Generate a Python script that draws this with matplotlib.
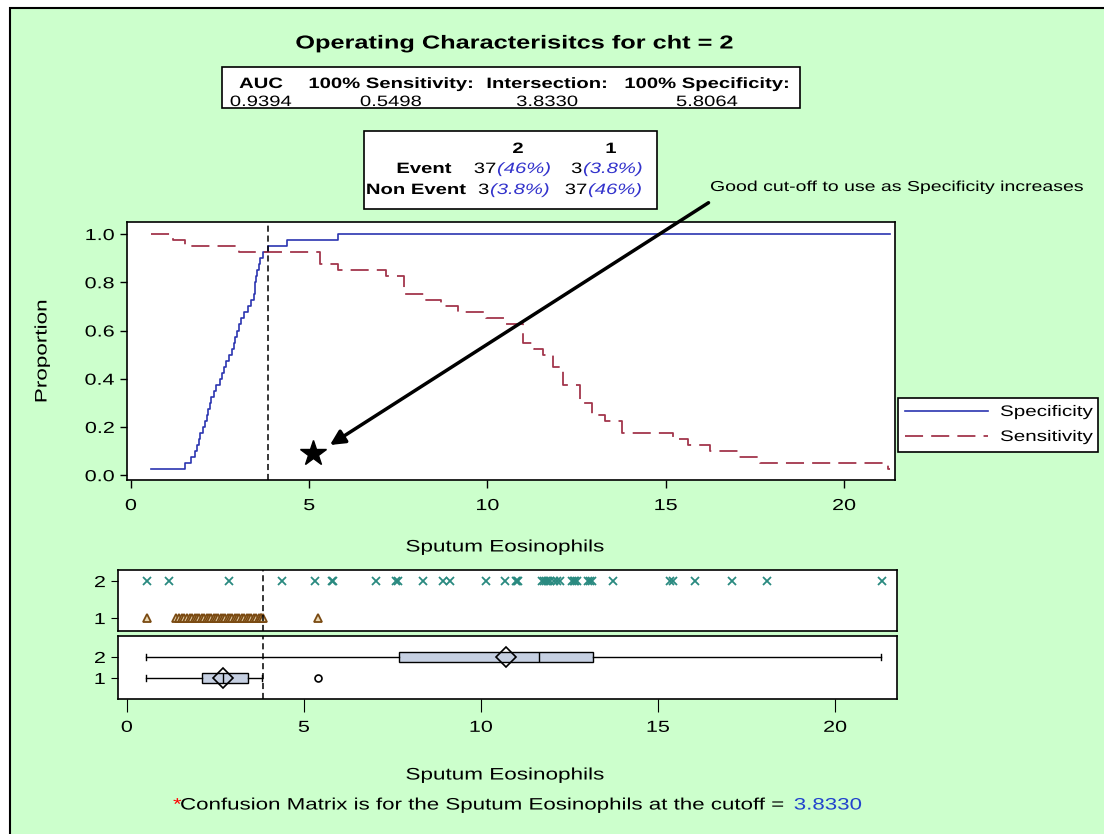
import matplotlib
matplotlib.use('Agg')
import matplotlib.pyplot as plt
from matplotlib.patches import Rectangle
from matplotlib.lines import Line2D
from matplotlib.patheffects import AbstractPathEffect
from matplotlib.transforms import Affine2D

plt.rcParams['font.family'] = ['Liberation Sans', 'DejaVu Sans']

# ---------------- data ----------------
cutoff = 3.833
auc_txt = "0.9394"
sens100_txt = "0.5498"
inter_txt = "3.8330"
spec100_txt = "5.8064"

spec_x = [0.55, 1.53, 1.68, 1.80, 1.86, 1.90, 1.94, 2.02, 2.08, 2.13, 2.17, 2.21, 2.24,
          2.32, 2.40, 2.50, 2.56, 2.62, 2.68, 2.76, 2.83, 2.88, 2.93, 2.98, 3.03, 3.08,
          3.18, 3.29, 3.38, 3.44, 3.47, 3.49, 3.51, 3.53, 3.58, 3.63, 3.70, 3.84, 4.37,
          5.81, 21.3]
spec_y = [0.025, 0.05, 0.075, 0.10, 0.125, 0.15, 0.175, 0.20, 0.225, 0.25, 0.275, 0.30,
          0.325, 0.35, 0.375, 0.40, 0.425, 0.45, 0.475, 0.50, 0.525, 0.55, 0.575, 0.60,
          0.625, 0.65, 0.675, 0.70, 0.725, 0.75, 0.775, 0.80, 0.825, 0.85, 0.875, 0.90,
          0.925, 0.95, 0.975, 1.0, 1.0]

sens_x = [0.55, 1.19, 1.53, 3.02, 5.30, 5.81, 7.16, 7.65, 8.24, 8.71, 9.18, 9.97, 10.49,
          11.00, 11.30, 11.57, 11.85, 12.13, 12.59, 12.92, 13.30, 13.76, 15.21, 15.63,
          16.24, 17.03, 17.64, 21.24, 21.3]
sens_y = [1.0, 0.975, 0.95, 0.925, 0.875, 0.85, 0.825, 0.75, 0.725, 0.70, 0.675, 0.65,
          0.625, 0.55, 0.525, 0.50, 0.45, 0.375, 0.30, 0.25, 0.225, 0.175, 0.15, 0.125,
          0.10, 0.075, 0.05, 0.025, 0.025]

star_x = [5.1]
star_y = [0.09]

group2_vals = [0.56, 1.20, 2.89, 4.37, 5.31, 5.78, 5.82, 7.05, 7.60, 7.65, 8.37, 8.94,
               9.14, 10.14, 10.68, 10.98, 11.02, 11.05, 11.72, 11.78, 11.84, 11.90, 11.96,
               12.05, 12.15, 12.22, 12.58, 12.62, 12.66, 12.70, 13.02, 13.08, 13.14, 13.74,
               15.35, 15.42, 16.05, 17.08, 18.07, 21.32]
group1_vals = [0.56, 1.40, 1.48, 1.55, 1.62, 1.70, 1.78, 1.85, 1.92, 1.98, 2.05, 2.12,
               2.18, 2.25, 2.32, 2.38, 2.45, 2.52, 2.58, 2.65, 2.72, 2.78, 2.85, 2.92,
               2.98, 3.05, 3.12, 3.18, 3.25, 3.32, 3.38, 3.45, 3.52, 3.58, 3.65, 3.72,
               3.78, 3.80, 3.833, 5.40]

box_labels = ['1', '2']
box_whislo = [0.55, 0.55]
box_q1 = [2.13, 7.68]
box_med = [2.72, 11.65]
box_q3 = [3.41, 13.17]
box_whishi = [3.83, 21.3]
box_mean = [2.72, 10.72]
box_fliers = [[5.40], []]

x_ticks = [0, 5, 10, 15, 20]
y_ticks = [0.0, 0.2, 0.4, 0.6, 0.8, 1.0]

# ---------------- helpers ----------------
SX = 1.35


class HStretch(AbstractPathEffect):
    """Widen text horizontally (mimics the loose letter spacing of the original)."""

    def __init__(self, sx=SX, anchor='center'):
        super().__init__()
        self.sx = sx
        self.anchor = anchor

    def draw_path(self, renderer, gc, tpath, affine, rgbFace=None):
        ext = tpath.get_extents()
        if self.anchor == 'left':
            a = 0.0
        elif self.anchor == 'right':
            a = ext.x1
        else:
            a = (ext.x0 + ext.x1) / 2
        pre = Affine2D().translate(-a, 0).scale(self.sx, 1).translate(a, 0)
        renderer.draw_path(gc, tpath, pre + affine, rgbFace)


def stretch(t, anchor='center'):
    t.set_path_effects([HStretch(SX, anchor)])
    return t


W, H = 1104, 834
fig = plt.figure(figsize=(W / 100, H / 100), dpi=100, facecolor='white')


def fx(x):
    return x / W


def fy(y):
    return 1 - y / H


def axrect(x0, y0, x1, y1):
    return [fx(x0), fy(y1), (x1 - x0) / W, (y1 - y0) / H]


def ftext(x, y, s, ha='center', **kw):
    t = fig.text(fx(x), fy(y), s, ha=ha, va='center', **kw)
    return stretch(t, ha)


bg = '#CCFFCC'
fig.patches.append(Rectangle((fx(10), fy(850)), fx(1120) - fx(10), fy(8) - fy(850),
                             transform=fig.transFigure, facecolor=bg, edgecolor='black',
                             lw=1.5, zorder=-5))

blue = '#2B35B0'
red = '#A2364C'
teal = '#2A8A80'
brown = '#7A4A12'
fs_tick = 11.5
fs_lab = 12

# ---- main axes ----
ax = fig.add_axes(axrect(127, 222, 895, 480))
ax.set_facecolor('white')
ax.plot(spec_x, spec_y, drawstyle='steps-post', color=blue, lw=1.2, label='Specificity')
ax.plot(sens_x, sens_y, drawstyle='steps-post', color=red, lw=1.3, dashes=(10, 4.5),
        label='Sensitivity')
ax.axvline(cutoff, color='black', lw=1.1, dashes=(4, 2.5))
ax.plot(star_x, star_y, marker='*', ms=19, color='black', ls='none')
ax.set_xlim(-0.11, 21.43)
ax.set_ylim(-0.02, 1.05)
ax.set_xticks(x_ticks)
ax.set_yticks(y_ticks)
ax.set_yticklabels([f'{v:.1f}' for v in y_ticks])
ax.tick_params(direction='out', length=6, width=1, labelsize=fs_tick, pad=7, colors='black')
ax.tick_params(axis='y', length=5, pad=4)
for s in ax.spines.values():
    s.set_linewidth(1.2)
ax.set_ylabel('Proportion', fontsize=fs_lab)
ax.yaxis.set_label_coords((42 - 127) / 768, 0.5)
ax.yaxis.label.set_va('center')
stretch(ax.yaxis.label)
ax.set_xlabel('Sputum Eosinophils', fontsize=fs_lab)
ax.xaxis.set_label_coords((505 - 127) / 768, (480 - 547) / 258)
ax.xaxis.label.set_va('center')
stretch(ax.xaxis.label)
ax.annotate('', xy=(5.58, 0.125), xytext=(16.2, 1.13),
            arrowprops=dict(arrowstyle='-|>', lw=2.5, color='black', mutation_scale=22,
                            shrinkA=0, shrinkB=0),
            annotation_clip=False)

# legend (outside, right)
fig.patches.append(Rectangle((fx(898), fy(452)), fx(1098) - fx(898), fy(398) - fy(452),
                             transform=fig.transFigure, facecolor='white',
                             edgecolor='black', lw=1.2, zorder=1))
fig.lines.append(Line2D([fx(905), fx(988)], [fy(411), fy(411)], transform=fig.transFigure,
                        color=blue, lw=1.2, zorder=2))
fig.lines.append(Line2D([fx(905), fx(988)], [fy(436), fy(436)], transform=fig.transFigure,
                        color=red, lw=1.3, dashes=(10, 4.5), zorder=2))
ftext(1000, 412, 'Specificity', ha='left', fontsize=11, zorder=3)
ftext(1000, 437, 'Sensitivity', ha='left', fontsize=11, zorder=3)

ftext(710, 187, 'Good cut-off to use as Specificity increases', ha='left', fontsize=10.4)

# ---- strip axes ----
ax2 = fig.add_axes(axrect(118, 570, 897, 631))
ax2.set_facecolor('white')
ax2.plot(group2_vals, [2] * len(group2_vals), ls='none', marker='x', ms=6, mew=1.3,
         color=teal)
ax2.plot(group1_vals, [1] * len(group1_vals), ls='none', marker='^', ms=5.5, mew=1.3,
         markerfacecolor='#EBD9B4', markeredgecolor=brown)
ax2.axvline(cutoff, color='black', lw=1.1, dashes=(4, 2.5))
ax2.set_xlim(-0.25, 21.75)
ax2.set_ylim(0.65, 2.30)
ax2.set_yticks([1, 2])
ax2.set_yticklabels(box_labels)
ax2.set_xticks([])
ax2.tick_params(direction='out', length=5, labelsize=fs_tick, pad=4)
for s in ax2.spines.values():
    s.set_linewidth(1.2)

# ---- box axes ----
ax3 = fig.add_axes(axrect(118, 636, 897, 699))
ax3.set_facecolor('white')
stats = []
for i in range(len(box_labels)):
    stats.append(dict(label=box_labels[i], whislo=box_whislo[i], q1=box_q1[i],
                      med=box_med[i], q3=box_q3[i], whishi=box_whishi[i],
                      mean=box_mean[i], fliers=box_fliers[i]))
ax3.bxp(stats, positions=[1, 2], vert=False, widths=0.45, showmeans=True,
        patch_artist=True, capwidths=0.3,
        boxprops=dict(facecolor='#C6D0E2', edgecolor='black', lw=1),
        medianprops=dict(color='black', lw=1),
        whiskerprops=dict(color='black', lw=1),
        capprops=dict(color='black', lw=1),
        meanprops=dict(marker='D', markerfacecolor='none', markeredgecolor='black',
                       ms=10, mew=1.2),
        flierprops=dict(marker='o', markerfacecolor='none', markeredgecolor='black',
                        ms=5, mew=1.2))
ax3.axvline(cutoff, color='black', lw=1.1, dashes=(4, 2.5))
ax3.set_xlim(-0.25, 21.75)
ax3.set_ylim(0, 3)
ax3.set_yticks([1, 2])
ax3.set_yticklabels(box_labels)
ax3.set_xticks(x_ticks)
ax3.set_xticklabels([str(v) for v in x_ticks])
ax3.tick_params(direction='out', length=5, labelsize=fs_tick, pad=4)
ax3.tick_params(axis='x', length=9, pad=6)
for s in ax3.spines.values():
    s.set_linewidth(1.2)
ax3.set_xlabel('Sputum Eosinophils', fontsize=fs_lab)
ax3.xaxis.set_label_coords((505 - 118) / 779, (699 - 775) / 63)
ax3.xaxis.label.set_va('center')
stretch(ax3.xaxis.label)

# ---- title ----
ftext(514, 44, 'Operating Characterisitcs for cht = 2', fontsize=13.5, fontweight='bold')

# ---- stats table ----
fig.patches.append(Rectangle((fx(222), fy(108)), fx(800) - fx(222), fy(67) - fy(108),
                             transform=fig.transFigure, facecolor='white',
                             edgecolor='black', lw=1.2, zorder=1))
hdrs = ['AUC', '100% Sensitivity:', 'Intersection:', '100% Specificity:']
vals = [auc_txt, sens100_txt, inter_txt, spec100_txt]
hx = [261, 391, 547, 707]
for h, v, x in zip(hdrs, vals, hx):
    ftext(x, 84, h, fontsize=10.8, fontweight='bold', zorder=2)
    ftext(x, 102, v, fontsize=10.8, zorder=2)

# ---- confusion matrix ----
fig.patches.append(Rectangle((fx(364), fy(209)), fx(657) - fx(364), fy(131) - fy(209),
                             transform=fig.transFigure, facecolor='white',
                             edgecolor='black', lw=1.2, zorder=1))
col_hdr = ['2', '1']
col_x = [518, 611]
for c, x in zip(col_hdr, col_x):
    ftext(x, 149, c, fontsize=10.8, fontweight='bold', zorder=2)
row_lbl = ['Event', 'Non Event']
row_lbl_x = [424, 416]
row_y = [169, 190]
cm_counts = [['37', '3'], ['3', '37']]
cm_pct = [['(46%)', '(3.8%)'], ['(3.8%)', '(46%)']]
split_x = [[496, 582], [489, 587]]
for r in range(2):
    ftext(row_lbl_x[r], row_y[r], row_lbl[r], fontsize=10.8, fontweight='bold', zorder=2)
    for c in range(2):
        ftext(split_x[r][c], row_y[r], cm_counts[r][c], ha='right', fontsize=10.8, zorder=2)
        ftext(split_x[r][c] + 1, row_y[r], cm_pct[r][c], ha='left', fontsize=10.8,
              color='#3333CC', style='italic', zorder=2)

# ---- footnote ----
foot_y = 805
ftext(173, foot_y, '*', ha='left', color='red', fontsize=11.9)
t2 = ftext(180, foot_y, 'Confusion Matrix is for the Sputum Eosinophils at the cutoff = ',
           ha='left', fontsize=11.9)

# tick labels: widen them as well
fig.canvas.draw()
for a in (ax, ax3):
    for t in a.get_xticklabels():
        stretch(t, 'center')
for a in (ax, ax2, ax3):
    for t in a.get_yticklabels():
        stretch(t, 'right')
bb = t2.get_window_extent()
num_x = bb.x0 + SX * (bb.x1 - bb.x0)
stretch(fig.text(num_x / W, fy(foot_y), inter_txt, color='#2244CC', ha='left', va='center',
                 fontsize=11.9), 'left')

fig.savefig('out.png', dpi=100, facecolor='white')
